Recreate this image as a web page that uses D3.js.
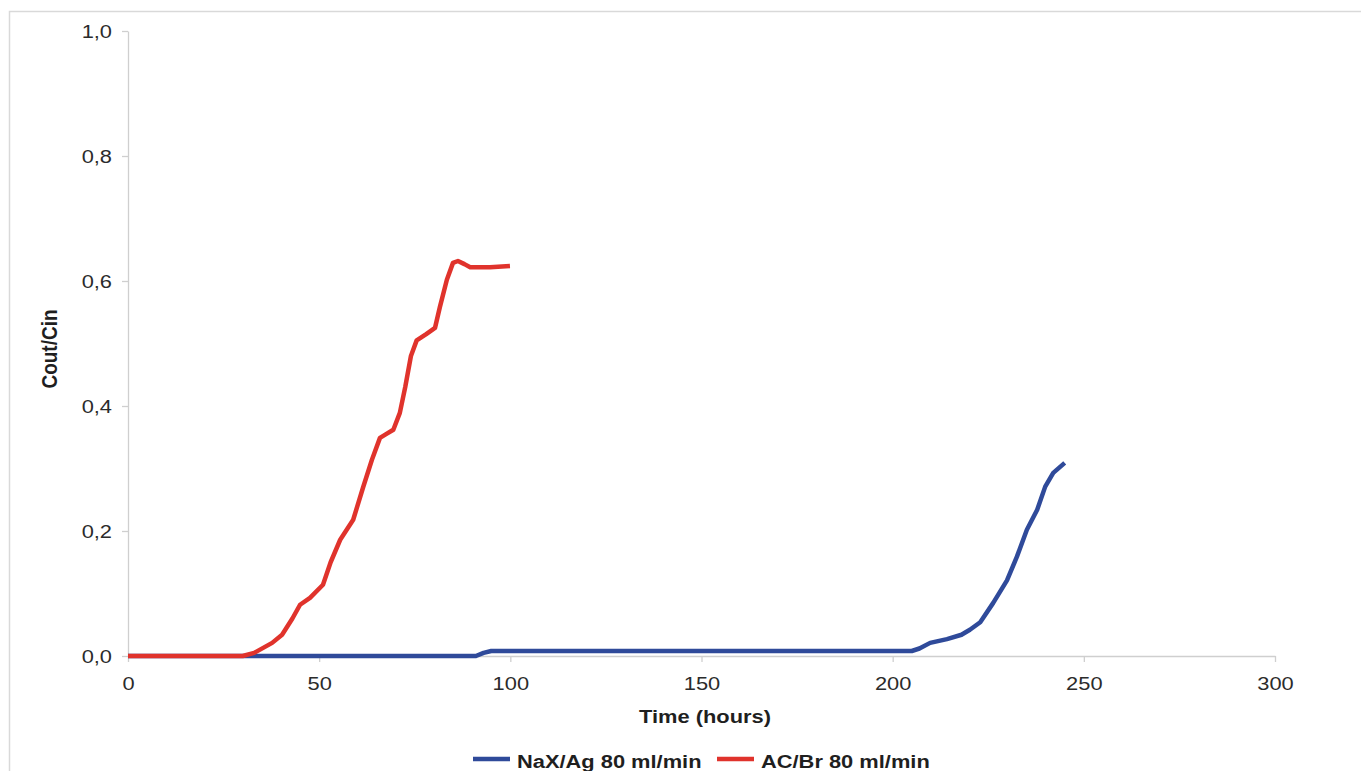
<!DOCTYPE html>
<html><head><meta charset="utf-8">
<script src="https://cdn.jsdelivr.net/npm/d3@7"></script>
<style>body{margin:0;background:#fff;}svg{display:block;font-family:"Liberation Sans",Arial,sans-serif;}</style>
</head><body><svg id="c" width="1361" height="771"></svg>
<script>
const xTicks = [0, 50, 100, 150, 200, 250, 300];
const yTicks = [0, 0.2, 0.4, 0.6, 0.8, 1.0];
const seriesNames = ["NaX/Ag 80 ml/min", "AC/Br 80 ml/min"];
const seriesColors = ["#2f4a9a", "#e0332c"];
const naxT = [0, 30, 60, 91, 93, 95, 120, 150, 180, 205, 207, 209.8, 214.2, 218, 220.2, 222.9, 226.3, 229.9, 232.5, 235.1, 237.8, 239.9, 242, 245];
const naxV = [0, 0, 0, 0, 0.005, 0.008, 0.008, 0.008, 0.008, 0.008, 0.012, 0.021, 0.027, 0.034, 0.042, 0.054, 0.085, 0.121, 0.159, 0.202, 0.234, 0.271, 0.293, 0.309];
const acT = [0, 15, 30, 33, 37.7, 40.3, 43, 45, 47.6, 51, 53, 55.5, 58.9, 61.5, 63.8, 65.9, 67.5, 69.4, 71.1, 72.5, 74, 75.5, 78, 80.3, 81.6, 83.4, 85, 86.3, 88, 89.5, 94.7, 99.9];
const acV = [0, 0, 0, 0.005, 0.021, 0.034, 0.06, 0.082, 0.093, 0.114, 0.15, 0.186, 0.218, 0.27, 0.314, 0.349, 0.355, 0.362, 0.389, 0.43, 0.48, 0.505, 0.515, 0.525, 0.559, 0.602, 0.629, 0.632, 0.627, 0.622, 0.622, 0.624];

const SX = 1.15;
const svg = d3.select("#c");
svg.append("rect").attr("x", 9.5).attr("y", 11.5).attr("width", 1400).attr("height", 800)
  .attr("fill", "none").attr("stroke", "#d9d9d9").attr("stroke-width", 1.5);

const x = d3.scaleLinear().domain([0, 300]).range([128, 1275]);
const y = d3.scaleLinear().domain([0, 1]).range([656, 31]);

const fmtY = v => d3.format(".1f")(v).replace(".", ",");

const gx = svg.append("g").attr("transform", "translate(0,656)")
  .call(d3.axisBottom(x).tickValues(xTicks).tickSize(6).tickSizeOuter(0).tickPadding(15));
const gy = svg.append("g").attr("transform", "translate(128,0)")
  .call(d3.axisLeft(y).tickValues(yTicks).tickFormat(fmtY).tickSize(6).tickSizeOuter(0).tickPadding(10));
[gx, gy].forEach(g => {
  g.select(".domain").attr("stroke", "#cfcfcf").attr("stroke-width", 1.3);
  g.selectAll(".tick line").attr("stroke", "#cfcfcf").attr("stroke-width", 1.3);
  g.selectAll(".tick text").attr("fill", "#2b2b2b").style("font-size", "19px")
    .style("font-family", "'Liberation Sans',Arial,sans-serif")
    .attr("transform", `scale(${SX},1)`);
});
gy.selectAll(".tick text").attr("x", -16 / SX);

const line = d3.line().x(d => x(d[0])).y(d => y(d[1]));
const seriesData = [naxT.map((t, i) => [t, naxV[i]]), acT.map((t, i) => [t, acV[i]])];
seriesData.forEach((d, i) => {
  svg.append("path").datum(d).attr("d", line).attr("fill", "none")
    .attr("stroke", seriesColors[i]).attr("stroke-width", 4.5)
    .attr("stroke-linejoin", "round").attr("stroke-linecap", "butt");
});

svg.append("text").attr("transform", `translate(705,723) scale(${SX},1)`).attr("text-anchor", "middle")
  .style("font-size", "19px").style("font-weight", "bold").attr("fill", "#1f1f1f").text("Time (hours)");
svg.append("text").attr("transform", `translate(57,349) scale(${SX},1) rotate(-90)`).attr("text-anchor", "middle")
  .style("font-size", "19px").style("font-weight", "bold").attr("fill", "#1f1f1f").text("Cout/Cin");

const legX = [473, 717];
seriesNames.forEach((n, i) => {
  svg.append("line").attr("x1", legX[i]).attr("x2", legX[i] + 37).attr("y1", 759).attr("y2", 759)
    .attr("stroke", seriesColors[i]).attr("stroke-width", 4.5);
  svg.append("text").attr("transform", `translate(${legX[i] + 44},768) scale(${SX},1)`)
    .style("font-size", "19px").style("font-weight", "bold").attr("fill", "#1f1f1f").text(n);
});
</script></body></html>
